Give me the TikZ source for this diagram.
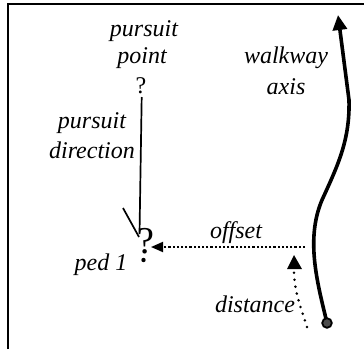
\documentclass[tikz,border=0pt]{standalone}
\usepackage{fontspec}
\setmainfont{Liberation Serif}
\usetikzlibrary{arrows.meta}
\tikzset{
  lbl/.style={font=\fontsize{24}{27}\selectfont\itshape, inner sep=0pt, anchor=base, align=center},
  tri/.style={-{Triangle[length=12pt,width=10pt]}},
}
\begin{document}
\begin{tikzpicture}[x=1pt,y=-1pt]
\useasboundingbox (0,0) rectangle (364,349);
% frame
\draw[line width=2.4pt] (8,349) -- (8,4) -- (364,4);
% pursuit point
\node[lbl] (pplbl) at (144,36) {pursuit};
\node[lbl] (pplbl2) at (142,63) {point};
\node[font=\fontsize{24}{27}\selectfont, inner sep=0pt, anchor=base] (ppq) at (141,93) {?};
% pursuit direction
\node[lbl] (pd1) at (92,128) {pursuit};
\node[lbl] (pd2) at (92,158) {direction};
% pedestrian
\node[font=\fontsize{38}{40}\selectfont, inner sep=0pt, anchor=base] (pedq) at (146,253) {?};
\fill (143.5,260) circle (2.2pt) coordinate (peddot);
\node[lbl] (pedlbl) at (101,270) {ped 1};
\coordinate (pdtop) at (141.7,97);
\coordinate (pdbot) at (139.5,234);
\draw[line width=1.7pt] (pdtop) -- (pdbot);
\coordinate (hd1) at (123,208);
\coordinate (hd2) at (139,237);
\draw[line width=1.7pt] (hd1) -- (hd2);
% offset
\coordinate (offs) at (305,247);
\coordinate (offe) at (151,247);
\draw[tri, line width=1.8pt, dash pattern=on 2.2pt off 2pt] (offs) -- (offe);
\node[lbl] (offlbl) at (236,238) {offset};
% distance
\coordinate (dists) at (307,327);
\coordinate (diste) at (294,255);
\draw[line width=2.8pt, line cap=round, dash pattern=on 0pt off 7pt] (dists) .. controls (300,305) and (294,290) .. (294,270);
\fill (294,255) -- (287,269) -- (302,269) -- cycle;
\node[lbl] (distlbl) at (255,312) {distance};
% walkway axis
\node[lbl] (wa1) at (286,63) {walkway};
\node[lbl] (wa2) at (286,94) {axis};
\coordinate (wstart) at (327,323);
\coordinate (wend) at (338,15);
\draw[line width=3.6pt, -{Triangle[length=15pt,width=14pt]}] (wstart) .. controls (318,285) and (305,240) .. (322,200) .. controls (338,165) and (350,140) .. (349,100) -- (wend);
\filldraw[fill=black!70, draw=black, line width=1.8pt] (wstart) circle (4.8pt);
\end{tikzpicture}
\end{document}
